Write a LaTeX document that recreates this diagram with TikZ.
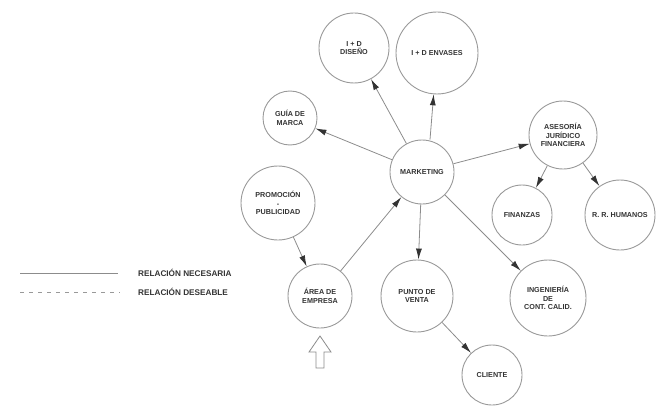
\documentclass[tikz,border=0pt]{standalone}
\usepackage{fontspec}
\setmainfont{Liberation Sans}
\usetikzlibrary{arrows.meta}
\tikzset{
  bub/.style={circle, draw=black!40, line width=0.9pt, inner sep=0pt, align=center,
    text=black!80, font=\fontsize{7.2}{8.6}\selectfont\bfseries},
  link/.style={draw=black!45, line width=0.8pt, -{Latex[length=11pt,width=6pt,color=black!80]}},
  legtext/.style={text=black!80, font=\fontsize{8.2}{9}\selectfont\bfseries, anchor=west, inner sep=0pt}
}
\begin{document}
\begin{tikzpicture}[x=1pt,y=-1pt]
\useasboundingbox (0,0) rectangle (666,409);
% nodes
\node[bub, minimum size=70pt] (n1) at (354,48) {I + D\\DISEÑO};
\node[bub, minimum size=82pt] (n2) at (437,53) {I + D  ENVASES};
\node[bub, minimum size=54pt] (n3) at (290,118) {GUÍA DE\\MARCA};
\node[bub, minimum size=64pt] (n4) at (422,172) {MARKETING};
\node[bub, minimum size=74pt] (n5) at (278,203) {PROMOCIÓN\\-\\PUBLICIDAD};
\node[bub, minimum size=64pt] (n6) at (320,296) {ÁREA DE\\EMPRESA};
\node[bub, minimum size=72pt] (n8) at (417,296) {PUNTO DE\\VENTA};
\node[bub, minimum size=60pt] (n9) at (492,375) {CLIENTE};
\node[bub, minimum size=76pt] (n10) at (548,298) {INGENIERÍA\\DE\\CONT. CALID.};
\node[bub, minimum size=68pt] (n11) at (563,135) {ASESORÍA\\JURÍDICO\\FINANCIERA};
\node[bub, minimum size=60pt] (n12) at (522,215) {FINANZAS};
\node[bub, minimum size=70pt] (n13) at (620,215) {R. R. HUMANOS};
% links
\draw[link] (n4) -- (n1);
\draw[link] (n4.north) ++(8,0) coordinate (c2) (c2) -- (n2);
\draw[link] (n4) -- (n3);
\draw[link] (n6) -- (n4);
\draw[link] (n5) -- (n6);
\draw[link] (n4) -- (n8);
\draw[link] (n4) -- (n10);
\draw[link] (n4) -- (n11);
\draw[link] (n11) -- (n12);
\draw[link] (n11) -- (n13);
\draw[link] (n8) -- (n9);
% hollow arrow
\draw[black!45, line width=0.8pt, fill=white]
  (316,368) -- (316,352) -- (309,352) -- (320,336) -- (331,352) -- (324,352) -- (324,368) -- cycle;
% legend
\coordinate (l1a) at (20,273); \coordinate (l1b) at (118,273);
\coordinate (l2a) at (20,292); \coordinate (l2b) at (120,292);
\draw[black!45, line width=0.9pt] (l1a) -- (l1b);
\draw[black!40, line width=0.9pt, dash pattern=on 4pt off 5pt] (l2a) -- (l2b);
\node[legtext] (t1) at (138,273) {RELACIÓN NECESARIA};
\node[legtext] (t2) at (138,292) {RELACIÓN DESEABLE};
\end{tikzpicture}
\end{document}
